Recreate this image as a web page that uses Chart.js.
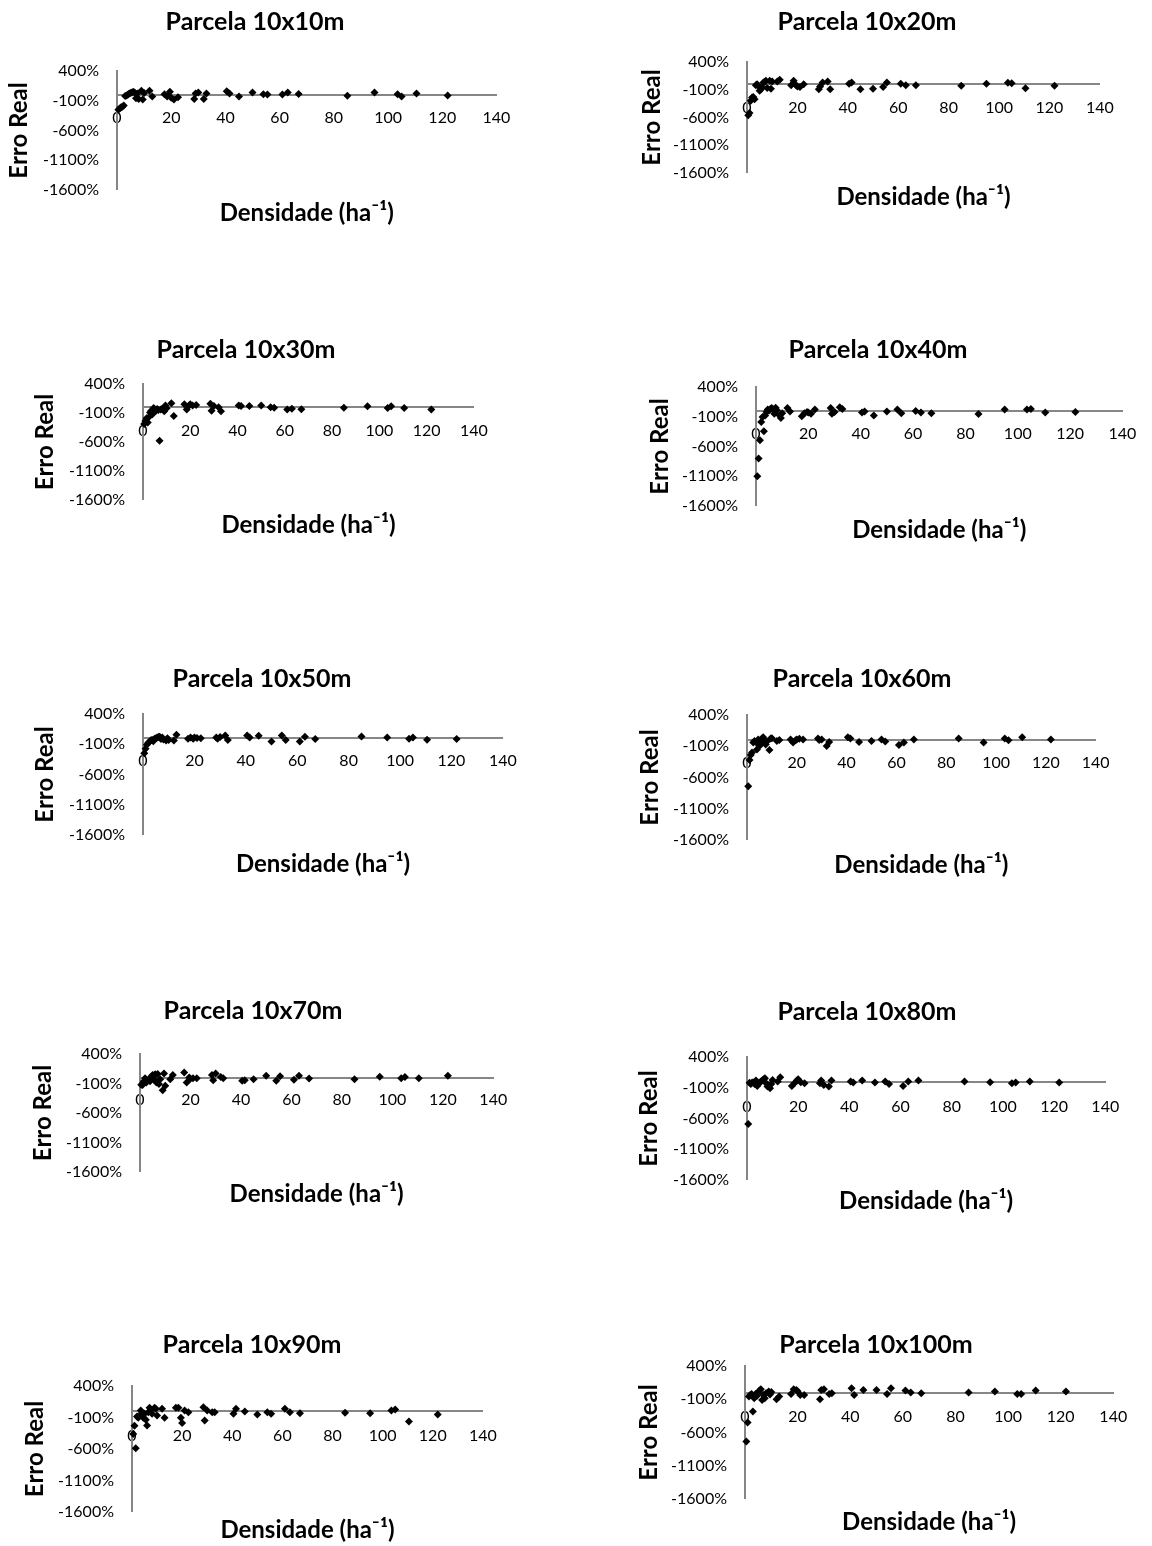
<!DOCTYPE html>
<html>
<head>
<meta charset="utf-8">
<script src="https://cdn.jsdelivr.net/npm/chart.js@4.4.1/dist/chart.umd.min.js"></script>
<style>
  body { margin: 0; background: #fff; }
  #page { position: relative; width: 1152px; height: 1546px; overflow: hidden; }
  #page canvas { position: absolute; }
</style>
</head>
<body>
<div id="page"></div>
<script>
// --- DATA ---
const panelNames = ['Parcela 10x10m', 'Parcela 10x20m', 'Parcela 10x30m', 'Parcela 10x40m', 'Parcela 10x50m',
                    'Parcela 10x60m', 'Parcela 10x70m', 'Parcela 10x80m', 'Parcela 10x90m', 'Parcela 10x100m'];

// densidade (ha-1), shared by all panels
const densidade = [0.5, 1, 1.5, 2, 2.5, 3, 3.5, 4, 4.5, 5,
                   5.5, 6, 6.5, 7, 7.5, 8, 9, 9.5, 10, 12,
                   13, 17.5, 18.5, 19.5, 20, 21, 22.5, 28.5, 29, 30,
                   32, 33, 40.5, 41.5, 45, 50, 54, 55.5, 61, 63,
                   67, 85, 95, 103.5, 105, 110.5, 122];

// erro real (%) per panel
const erro10x10 = [-250, -230, -210, -200, -180, -20, -10, 0, 20, 30,
                   40, 50, 40, -60, 20, -70, 70, -80, 30, 70,
                   -30, 10, -30, 50, -50, -80, -40, -70, 20, 40,
                   -70, 20, 60, 20, -30, 40, 10, 5, 5, 40,
                   15, -15, 40, 10, -30, 20, -10];
const erro10x20 = [-560, -520, -300, -240, -230, -270, -20, 0, -30, -120,
                   -90, -60, 30, 40, 60, -70, 60, -80, 50, 50,
                   80, -20, 60, -20, -40, -50, 0, -90, -40, 30,
                   50, -90, 10, 30, -90, -80, -50, 30, 10, -20,
                   -20, -30, 10, 25, 15, -75, -30];
const erro10x30 = [-290, -240, -190, -265, -170, -90, -60, -120, -15, -40,
                   -60, -30, -50, -580, -40, -30, -70, 30, -20, 70,
                   -150, 50, -40, 30, 50, 30, 40, 60, -60, 20,
                   0, -70, 30, 20, 20, 30, 0, -10, -40, -25,
                   -35, -10, 15, -15, 15, -15, -40];
const erro10x40 = [-1100, -800, -495, -190, -105, -345, -78, -20, 20, 5,
                   30, 45, 25, -50, 50, 10, -80, -120, -40, 45,
                   -10, -90, -40, -20, -30, -50, 20, 45, -50, -20,
                   60, 30, -30, -10, -80, -10, 20, -40, -5, -30,
                   -40, -55, 20, 20, 30, -30, -20];
const erro10x50 = [-250, -175, -110, -80, -60, -40, -25, -50, -10, 0,
                   10, 20, 25, -15, 10, -20, -40, 0, -30, -40,
                   55, -10, 10, -10, 10, 5, 0, 10, -10, 20,
                   45, -30, 45, 10, 40, -55, 45, -30, -55, 25,
                   -15, 30, 10, -10, 10, -25, -15];
const erro10x60 = [-740, -320, -240, -200, -40, -15, -30, -150, 10, -95,
                   -60, 25, 45, -20, -70, -25, -160, 25, 30, -15,
                   0, 10, -40, -5, 10, 20, 10, 25, 0, 10,
                   -95, -30, 45, 25, -30, -15, 10, -25, -80, -40,
                   10, 25, -40, 25, -5, 45, 10];
const erro10x70 = [-120, -125, -60, -10, -85, -55, -30, -60, 20, 45,
                   -20, 55, -85, 60, -110, -30, -215, 70, -140, -30,
                   45, 85, -85, 0, -20, -10, -10, 45, -45, 70,
                   10, -10, -55, -45, -30, 30, -55, 25, -35, 30,
                   -15, -30, 15, -10, 10, -10, 30];
const erro10x80 = [-690, -20, -40, -15, -16, -38, 16, -70, -30, -16,
                   0, 20, 40, 54, -27, -81, -109, -38, 27, 0,
                   70, -70, -27, 16, 38, -10, -27, -27, 16, -54,
                   -81, 16, 0, -16, 16, -16, 0, -38, -70, 0,
                   16, 0, -11, -27, -16, 0, -16];
const erro10x90 = [-360, -230, -590, -85, -105, -68, 10, -40, -105, -42,
                   -137, -226, -16, 53, 20, -42, 53, 37, -68, 37,
                   -105, 53, 53, -105, -189, 10, -16, 63, -147, 10,
                   -16, -16, -42, 37, -5, -53, -16, -42, 37, -16,
                   -32, -26, -32, 10, 26, -163, -53];
const erro10x100 = [-735, -450, -60, -35, -20, -285, -85, -20, -50, 0,
                    30, 50, -110, -35, -85, -10, 15, -30, 10, -100,
                    -60, -20, 50, 40, 20, -35, -35, -100, 40, 50,
                    -20, -10, 65, -35, 40, 40, -20, 65, 30, 0,
                    -10, 0, 15, -20, -20, 30, 15];

const panelSeries = [erro10x10, erro10x20, erro10x30, erro10x40, erro10x50,
                     erro10x60, erro10x70, erro10x80, erro10x90, erro10x100];

// axis ticks
const xTicks = [0, 20, 40, 60, 80, 100, 120, 140];
const yTicks = [-1600, -1100, -600, -100, 400];

const yTitle = 'Erro Real';
const xTitle = 'Densidade (ha\u207B\u00B9)';

// --- LAYOUT (page pixels of each panel) ---
const panelLayout = [
  {left: 0,   titleX: 255, titleY: 22,   yTitleX: 19,  axisX: 117, xEnd: 504,  yTop: 71,   yBot: 190,  xLabelY: 118,  xTitleY: 213},
  {left: 576, titleX: 867, titleY: 22,   yTitleX: 652, axisX: 747, xEnd: 1108, yTop: 62,   yBot: 173,  xLabelY: 108,  xTitleY: 197},
  {left: 0,   titleX: 246, titleY: 350,  yTitleX: 45,  axisX: 143, xEnd: 482,  yTop: 384,  yBot: 500,  xLabelY: 431,  xTitleY: 525},
  {left: 576, titleX: 878, titleY: 350,  yTitleX: 660, axisX: 756, xEnd: 1130, yTop: 387,  yBot: 506,  xLabelY: 434,  xTitleY: 530},
  {left: 0,   titleX: 262, titleY: 679,  yTitleX: 45,  axisX: 143, xEnd: 510,  yTop: 714,  yBot: 835,  xLabelY: 761,  xTitleY: 864},
  {left: 576, titleX: 862, titleY: 679,  yTitleX: 650, axisX: 747, xEnd: 1103, yTop: 715,  yBot: 840,  xLabelY: 763,  xTitleY: 865},
  {left: 0,   titleX: 253, titleY: 1011, yTitleX: 43,  axisX: 140, xEnd: 500,  yTop: 1054, yBot: 1172, xLabelY: 1100, xTitleY: 1194},
  {left: 576, titleX: 867, titleY: 1012, yTitleX: 649, axisX: 747, xEnd: 1115, yTop: 1057, yBot: 1180, xLabelY: 1107, xTitleY: 1201},
  {left: 0,   titleX: 252, titleY: 1345, yTitleX: 35,  axisX: 132, xEnd: 492,  yTop: 1386, yBot: 1512, xLabelY: 1436, xTitleY: 1530},
  {left: 576, titleX: 876, titleY: 1345, yTitleX: 649, axisX: 745, xEnd: 1122, yTop: 1366, yBot: 1499, xLabelY: 1417, xTitleY: 1522}
];

const FONT = 'Lato, "Open Sans", sans-serif';
const TITLE_SIZE = 25;
const Y_TITLE_SIZE = 24;
const X_TITLE_SIZE = 24;
const TICK_SIZE = 16;
const AXIS_COLOR = '#868686';

Chart.defaults.font.family = FONT;
Chart.defaults.color = '#000';

const page = document.getElementById('page');

panelNames.forEach((name, i) => {
  const g = panelLayout[i];
  const values = panelSeries[i];

  // work out canvas box + paddings so the plot area lands where the figure has it
  const titleLH = TITLE_SIZE * 1.2;
  const top = Math.round(g.titleY - titleLH / 2);
  const titlePadBottom = g.yTop - top - titleLH;
  const padLeft = 2 * g.titleX - g.xEnd - g.left;
  const padRight = 20;
  const width = g.xEnd - g.left + padRight;
  const yScaleWidth = g.axisX - g.left - padLeft;
  const yTitlePad = Math.max(0, g.yTitleX - g.left - padLeft - Y_TITLE_SIZE / 2);
  const xTitleLH = X_TITLE_SIZE * 1.2;
  const xTitlePadTop = g.xTitleY - g.yBot - xTitleLH / 2;
  const used = g.yBot - top + xTitlePadTop + xTitleLH;
  const height = Math.ceil(used + 4);
  const xTitlePadBottom = height - used;
  const yMin = yTicks[0], yMax = yTicks[yTicks.length - 1];
  const zeroY = g.yTop + (yMax / (yMax - yMin)) * (g.yBot - g.yTop);
  const xTickPad = g.xLabelY - zeroY - TICK_SIZE * 1.2 / 2;

  const canvas = document.createElement('canvas');
  canvas.width = width;
  canvas.height = height;
  canvas.style.left = g.left + 'px';
  canvas.style.top = top + 'px';
  canvas.style.width = width + 'px';
  canvas.style.height = height + 'px';
  page.appendChild(canvas);

  new Chart(canvas, {
    type: 'scatter',
    data: {
      datasets: [{
        data: densidade.map((x, k) => ({x: x, y: values[k]})),
        pointStyle: 'rectRot',
        pointRadius: 4,
        backgroundColor: '#000',
        borderColor: '#000',
        borderWidth: 0,
        clip: false
      }]
    },
    options: {
      responsive: false,
      animation: false,
      events: [],
      layout: { padding: { left: padLeft, right: padRight, top: 0, bottom: 0 } },
      plugins: {
        legend: { display: false },
        tooltip: { enabled: false },
        title: {
          display: true,
          text: name,
          color: '#000',
          font: { size: TITLE_SIZE, weight: 'bold' },
          padding: { top: 0, bottom: titlePadBottom }
        },
        subtitle: {
          display: true,
          position: 'bottom',
          fullSize: false,
          text: xTitle,
          color: '#000',
          font: { size: X_TITLE_SIZE, weight: 'bold' },
          padding: { top: xTitlePadTop, bottom: xTitlePadBottom }
        }
      },
      scales: {
        x: {
          type: 'linear',
          position: { y: 0 },
          min: xTicks[0],
          max: xTicks[xTicks.length - 1],
          ticks: { stepSize: xTicks[1] - xTicks[0], padding: xTickPad, font: { size: TICK_SIZE }, color: '#000', maxRotation: 0, autoSkip: false },
          grid: { display: false, drawTicks: false },
          border: { display: true, color: AXIS_COLOR, width: 2 },
          afterFit: (scale) => { scale.height = 0; }
        },
        y: {
          type: 'linear',
          position: 'left',
          min: yMin,
          max: yMax,
          ticks: { stepSize: yTicks[1] - yTicks[0], padding: 18, font: { size: TICK_SIZE }, color: '#000', callback: (v) => v + '%' },
          grid: { display: false, drawTicks: false },
          border: { display: true, color: AXIS_COLOR, width: 2 },
          title: {
            display: true,
            text: yTitle,
            color: '#000',
            font: { size: Y_TITLE_SIZE, weight: 'bold', lineHeight: 1 },
            padding: { top: yTitlePad, bottom: 0 }
          },
          afterFit: (scale) => { scale.width = yScaleWidth; }
        }
      }
    }
  });
});
</script>
</body>
</html>
